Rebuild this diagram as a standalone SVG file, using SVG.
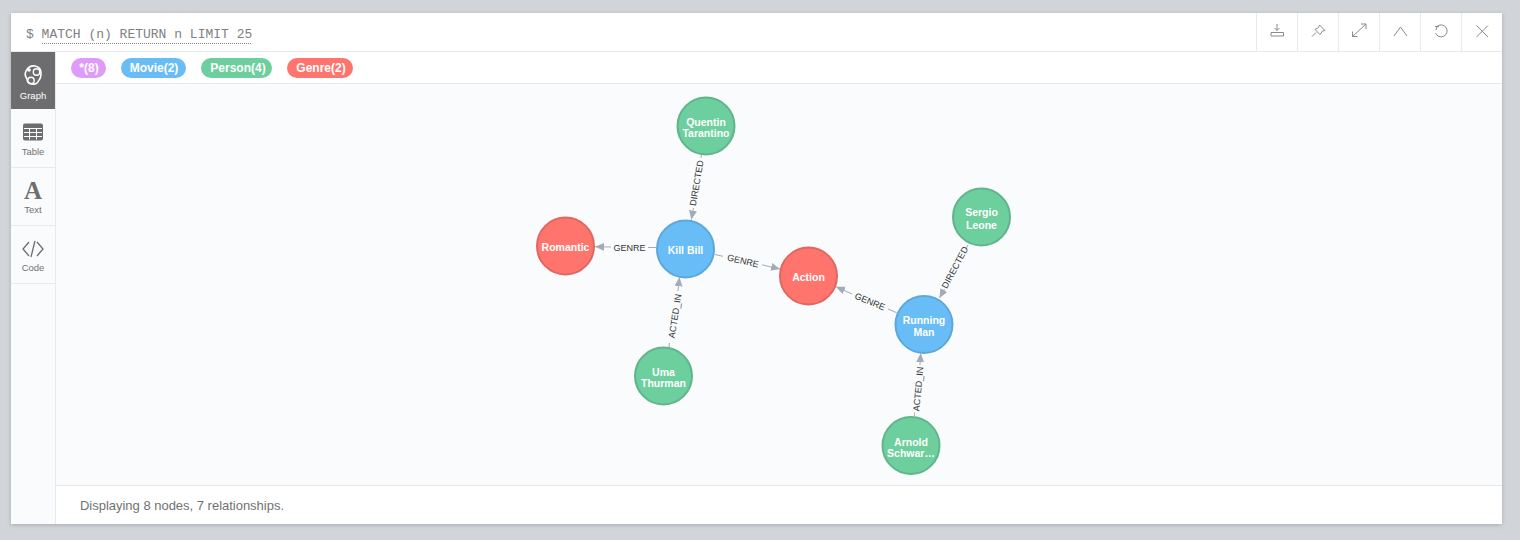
<svg xmlns="http://www.w3.org/2000/svg" width="1520" height="540" viewBox="0 0 1520 540">
<style>
.ui{font-family:"Liberation Sans",Arial,sans-serif}
.tab{font-size:9.5px;fill:#717172;text-anchor:middle}
.chip{font-size:12px;font-weight:700;fill:#fff;text-anchor:middle}
.sep{stroke:#e8e9ec;stroke-width:1;fill:none}
.ico{stroke:#8a8a8c;stroke-width:1;fill:none}
.node circle{stroke-width:2}
.node text{font-size:10.500px;font-weight:700;fill:#fff;text-anchor:middle;font-family:"Liberation Sans",Arial,sans-serif}
.movie circle{fill:#68bdf6;stroke:#5ca8db}
.person circle{fill:#6dce9e;stroke:#60b58b}
.genre circle{fill:#ff756e;stroke:#e06760}
.rel{stroke:#a5abb6;stroke-width:1;fill:none}
.lab{font-size:9px;fill:#333;text-anchor:middle;font-family:"Liberation Sans",Arial,sans-serif}
</style>
<defs>
<marker id="arrow" markerUnits="userSpaceOnUse" markerWidth="11" markerHeight="9" refX="9" refY="4" orient="auto"><path d="M0 0L9 4L0 8Z" fill="#a5abb6"/></marker>
<filter id="sh" x="-2%" y="-5%" width="104%" height="110%"><feDropShadow dx="0" dy="1" stdDeviation="2" flood-color="#000" flood-opacity=".2"/></filter>
</defs>
<rect width="1520" height="540" fill="#d1d5da"/>
<rect x="11" y="13" width="1491" height="511" fill="#fff" filter="url(#sh)"/>
<rect x="56" y="84" width="1446" height="401" fill="#f9fbfd"/>
<rect x="11" y="52" width="44" height="472" fill="#f9fbfd"/>
<g id="chrome">
<path class="sep" d="M11 51.500H1502M56 83.500H1502M56 485.500H1502M55.500 52V524M11 167.500H55M11 225.500H55M11 283.500H55M1256.500 13V51M1297.500 13V51M1338.500 13V51M1379.500 13V51M1420.500 13V51M1461.500 13V51"/>
<rect x="11" y="52" width="44" height="57" fill="#6d6d6f"/>
</g>
<g id="query">
<text x="26" y="38" font-family="'Liberation Mono',monospace" font-size="13" fill="#808082" xml:space="preserve">$ MATCH (n) RETURN n LIMIT 25</text>
<line x1="42" y1="43.500" x2="252" y2="43.500" stroke="#8a8a8c" stroke-dasharray="1 1"/>
</g>
<g id="sidebar" class="ui">
<g id="tab-graph"><path d="M26 71Q29 65 35 66Q41 67 41 73Q41 78 39 80Q37 85 32 84Q27 83 27 79Q24 75 26 71Z" fill="none" stroke="#fff" stroke-width="1.600"/><circle cx="36.500" cy="72" r="3.200" fill="none" stroke="#fff" stroke-width="1.400"/><circle cx="31" cy="80.500" r="3.200" fill="none" stroke="#fff" stroke-width="1.400"/><circle cx="29" cy="70" r="1.800" fill="#fff"/><text x="33" y="99" class="tab" style="fill:#fff">Graph</text></g>
<g id="tab-table"><rect x="23" y="123.500" width="20" height="17" rx="2" fill="#6d6d6f"/><path d="M24 128.500H42M24 132.500H42M24 136.500H42M29.500 128V139.500M36.500 128V139.500" stroke="#f9fbfd" stroke-width="1"/><text x="33" y="155" class="tab">Table</text></g>
<g id="tab-text"><text x="33" y="199" text-anchor="middle" font-family="'Liberation Serif',serif" font-weight="700" font-size="25" fill="#6d6d6f">A</text><text x="33" y="213" class="tab">Text</text></g>
<g id="tab-code"><path d="M29 242L23 249L29 256M37 242L43 249L37 256M35 241L31 257" fill="none" stroke="#6d6d6f" stroke-width="1.300"/><text x="33" y="271" class="tab">Code</text></g>
</g>
<g id="chips" class="ui">
<g><rect x="71" y="58" width="35" height="20" rx="10" fill="#de9bf9"/><text x="89" y="72" class="chip">*(8)</text></g>
<g><rect x="121" y="58" width="65" height="20" rx="10" fill="#68bdf6"/><text x="154" y="72" class="chip">Movie(2)</text></g>
<g><rect x="201" y="58" width="71" height="20" rx="10" fill="#6dce9e"/><text x="238" y="72" class="chip">Person(4)</text></g>
<g><rect x="287" y="58" width="66" height="20" rx="10" fill="#ff756e"/><text x="321" y="72" class="chip">Genre(2)</text></g>
</g>
<g id="toolbar">
<path class="ico" d="M1271 32.500H1283.500V36H1271ZM1277 24V30.500M1274.500 28L1277 30.500L1279.500 28"/>
<path class="ico" d="M1319.500 25L1325 30.500L1322.500 31L1320 34.500L1315 29.500L1318.500 27.500ZM1316 32.500L1312 36.500"/>
<path class="ico" d="M1352.500 36.500L1366 24M1361 24H1366V29M1352.500 31.500V36.500H1357.500"/>
<path class="ico" d="M1394 36L1400.500 27L1407 36"/>
<path class="ico" d="M1437 26.500A6 6 0 1 1 1435.500 33M1435 26.500H1439M1437 26.500L1436 30"/>
<path class="ico" d="M1476.500 25.500L1488 37M1488 25.500L1476.500 37"/>
</g>
<text id="status" class="ui" x="80" y="510" font-size="13" fill="#717172" textLength="204">Displaying 8 nodes, 7 relationships.</text>
<g id="connectors">
<path class="rel" d="M701.500 155L701 158"/><line class="rel" x1="693.500" y1="208" x2="691.300" y2="219.500" marker-end="url(#arrow)"/>
<path class="rel" d="M656 247.500H648"/><line class="rel" x1="611" y1="247" x2="595" y2="246.700" marker-end="url(#arrow)"/>
<path class="rel" d="M715 254.500L723 256.300"/><line class="rel" x1="762" y1="264.800" x2="780" y2="269" marker-end="url(#arrow)"/>
<path class="rel" d="M896.700 312.700L888 309"/><line class="rel" x1="852" y1="294" x2="836" y2="286.700" marker-end="url(#arrow)"/>
<path class="rel" d="M968 245L966.500 248"/><line class="rel" x1="944.500" y1="289" x2="939.500" y2="298" marker-end="url(#arrow)"/>
<path class="rel" d="M914.300 416L914.700 412.500"/><line class="rel" x1="920" y1="365" x2="920.700" y2="353.300" marker-end="url(#arrow)"/>
<path class="rel" d="M669 347.300L669.500 343"/><line class="rel" x1="678" y1="291" x2="679.500" y2="277.300" marker-end="url(#arrow)"/>
<text class="lab" transform="translate(696.700 183) rotate(-80.500)" y="3">DIRECTED</text>
<text class="lab" transform="translate(629.500 247.500)" y="3">GENRE</text>
<text class="lab" transform="translate(743 261) rotate(13)" y="3">GENRE</text>
<text class="lab" transform="translate(870 301.700) rotate(23)" y="3">GENRE</text>
<text class="lab" transform="translate(955 267.500) rotate(-62)" y="3">DIRECTED</text>
<text class="lab" transform="translate(918.300 389) rotate(-85)" y="3">ACTED_IN</text>
<text class="lab" transform="translate(675 316) rotate(-81)" y="3">ACTED_IN</text>
</g>
<g id="node-quentin" class="node person"><circle cx="706" cy="126" r="28.500"/><text x="706" y="125.500">Quentin</text><text x="706" y="136.500">Tarantino</text></g>
<g id="node-killbill" class="node movie"><circle cx="685.500" cy="249" r="28.500"/><text x="685.500" y="253.500">Kill Bill</text></g>
<g id="node-romantic" class="node genre"><circle cx="565.500" cy="246" r="28.500"/><text x="565.500" y="251">Romantic</text></g>
<g id="node-action" class="node genre"><circle cx="808.500" cy="276" r="28.500"/><text x="808.500" y="280.500">Action</text></g>
<g id="node-running" class="node movie"><circle cx="924" cy="324.500" r="28.500"/><text x="924" y="323.500">Running</text><text x="924" y="335.500">Man</text></g>
<g id="node-sergio" class="node person"><circle cx="981.500" cy="217" r="28.500"/><text x="981.500" y="216">Sergio</text><text x="981.500" y="228.500">Leone</text></g>
<g id="node-uma" class="node person"><circle cx="663.500" cy="376" r="28.500"/><text x="663.500" y="375.500">Uma</text><text x="663.500" y="386.500">Thurman</text></g>
<g id="node-arnold" class="node person"><circle cx="911" cy="445.500" r="28.500"/><text x="911" y="445.500">Arnold</text><text x="911" y="456.500">Schwar…</text></g>
</svg>
